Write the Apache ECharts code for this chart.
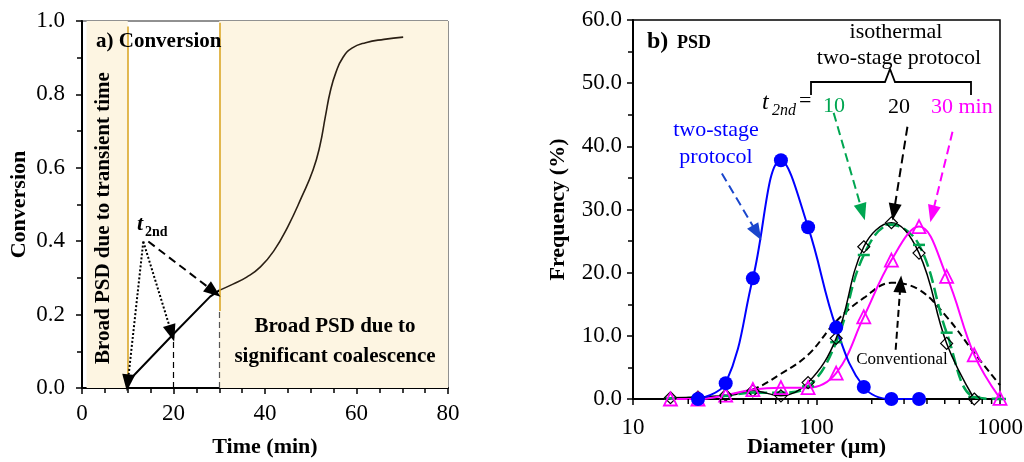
<!DOCTYPE html>
<html lang="en">
<head>
<meta charset="utf-8" />
<title>Conversion and PSD</title>
<script src="https://cdn.jsdelivr.net/npm/echarts@6/dist/echarts.min.js"></script>
<style>
  html, body { margin: 0; padding: 0; background: #fff; }
  #main { width: 1024px; height: 462px; }
</style>
</head>
<body>
<div id="main"></div>
<script>
// panel a) conversion vs time
var rampTime = [10, 20, 28, 30];
var rampConv = [0.017, 0.147, 0.249, 0.266];
var curveTime = [30, 33, 36, 39, 42, 45, 48, 50.5, 52, 53.2, 54.3, 55.5, 57, 59, 62, 66, 70.2];
var curveConv = [0.266, 0.283, 0.302, 0.33, 0.375, 0.44, 0.52, 0.594, 0.66, 0.74, 0.81, 0.86, 0.9, 0.926, 0.941, 0.95, 0.956];

// panel b) PSD
var diam = [16, 22.6, 32, 45, 64, 90, 128, 181, 256, 362, 512, 724, 1000];
var twoStage = [null, 0.0, 2.5, 19.1, 37.8, 27.2, 11.3, 1.9, 0.0, 0.0, null, null, null];
var iso10 = [0.1, 0.2, 0.5, 1.0, 1.0, 2.0, 9.0, 22.8, 27.6, 24.4, 10.5, 0.3, 0.0];
var iso20 = [0.2, 0.3, 0.6, 1.3, 0.5, 2.6, 9.6, 24.1, 27.9, 23.1, 8.8, 0.0, null];
var iso30 = [0.0, 0.0, 0.6, 1.5, 1.8, 1.8, 4.1, 13.0, 22.0, 27.3, 19.4, 7.0, 0.1];
var conventional = [null, 0.0, 0.5, 1.5, 4.0, 7.0, 12.3, 16.0, 18.4, 17.3, 13.0, 7.3, 2.2];
var logMinor = [20, 30, 40, 50, 60, 70, 80, 90, 200, 300, 400, 500, 600, 700, 800, 900];

var FONT = '"Liberation Serif", "Times New Roman", serif';

function pairs(xs, ys) {
    var out = [];
    for (var i = 0; i < xs.length; i++) {
        if (ys[i] !== null) out.push([xs[i], ys[i]]);
    }
    return out;
}

function arrow(x1, y1, x2, y2, color, type) {
    return [
        { coord: [x1, y1], symbol: 'none', lineStyle: { color: color, type: type, width: 2 } },
        { coord: [x2, y2], symbol: 'triangle', symbolSize: [13, 17], itemStyle: { color: color } }
    ];
}

function vline(x, y1, y2, color, type, width) {
    return [
        { coord: [x, y1], symbol: 'none', lineStyle: { color: color, type: type, width: width } },
        { coord: [x, y2], symbol: 'none' }
    ];
}

function txt(x, y, text, font, fill, align, extra) {
    var st = { text: text, font: font + ' ' + FONT, fill: fill || '#000', textAlign: align || 'left', textVerticalAlign: 'middle' };
    var el = { type: 'text', x: x, y: y, z: 100, style: st };
    if (extra) echarts.util.merge(el, extra, true);
    return el;
}

var myChart = echarts.init(document.getElementById('main'));

var axisCommon = {
    nameMoveOverlap: false,
    axisLine: { lineStyle: { color: '#000', width: 2 } },
    axisTick: { inside: false, length: 6, lineStyle: { color: '#000', width: 1.5 } },
    minorTick: { show: true, length: 5, lineStyle: { color: '#000', width: 1.5 } },
    splitLine: { show: false },
    axisLabel: { color: '#000', fontFamily: FONT, fontSize: 23 },
    nameTextStyle: { color: '#000', fontFamily: FONT, fontSize: 22, fontWeight: 'bold' }
};

var option = {
    animation: false,
    grid: [
        { left: 82, right: 576, top: 21, bottom: 74, show: true, borderColor: '#222', borderWidth: 1,
          containLabel: false, outerBoundsMode: 'none' },
        { left: 633, right: 24, top: 20, bottom: 63, show: true, borderColor: '#000', borderWidth: 1.5,
          containLabel: false, outerBoundsMode: 'none' }
    ],
    xAxis: [
        echarts.util.merge({
            gridIndex: 0, type: 'value', min: 0, max: 80, interval: 20,
            name: 'Time (min)', nameLocation: 'middle', nameGap: 48,
            minorTick: { splitNumber: 4 },
            axisLabel: { margin: 14 }
        }, axisCommon, false),
        echarts.util.merge({
            gridIndex: 1, type: 'log', logBase: 10, min: 10, max: 1000,
            name: 'Diameter (µm)', nameLocation: 'middle', nameGap: 37,
            minorTick: { show: false },
            axisLabel: { margin: 17, formatter: function (v) { return String(Math.round(v)); } }
        }, axisCommon, false)
    ],
    yAxis: [
        echarts.util.merge({
            gridIndex: 0, type: 'value', min: 0, max: 1, interval: 0.2,
            name: 'Conversion', nameLocation: 'middle', nameGap: 52,
            minorTick: { splitNumber: 2 },
            axisLabel: { margin: 17, formatter: function (v) { return v.toFixed(1); } }
        }, axisCommon, false),
        echarts.util.merge({
            gridIndex: 1, type: 'value', min: 0, max: 60, interval: 10,
            name: 'Frequency (%)', nameLocation: 'middle', nameGap: 64,
            minorTick: { splitNumber: 2 },
            axisLabel: { margin: 11, formatter: function (v) { return v.toFixed(1); } }
        }, axisCommon, false)
    ],
    series: [
        // shaded regions + guide lines (panel a)
        {
            type: 'line', xAxisIndex: 0, yAxisIndex: 0, data: [], silent: true,
            markArea: {
                silent: true,
                itemStyle: { color: '#fdf5e2' },
                data: [
                    [{ coord: [1, 0] }, { coord: [10, 1] }],
                    [{ coord: [30, 0] }, { coord: [80, 1] }]
                ]
            },
            markLine: {
                silent: true, label: { show: false }, symbol: ['none', 'none'],
                data: [
                    vline(10, 0.01, 0.985, '#d8a21c', 'solid', 1.5),
                    vline(30, 0.21, 0.995, '#d8a21c', 'solid', 1.5),
                    vline(20, 0, 0.147, '#000', [6, 4], 1.2),
                    vline(30, 0, 0.21, '#555', [6, 4], 1.2)
                ]
            }
        },
        {
            type: 'line', xAxisIndex: 0, yAxisIndex: 0, showSymbol: false, symbol: 'none',
            data: pairs(rampTime, rampConv),
            lineStyle: { color: '#000', width: 2 }, z: 3,
            markLine: {
                silent: true, label: { show: false },
                data: [
                    arrow(13.4, 0.399, 10.0, 0.014, '#000', 'dotted'),
                    arrow(13.4, 0.399, 19.6, 0.149, '#000', 'dotted'),
                    arrow(14.5, 0.399, 28.8, 0.263, '#000', [8, 5])
                ]
            }
        },
        {
            type: 'line', xAxisIndex: 0, yAxisIndex: 0, showSymbol: false, symbol: 'none', smooth: 0.5,
            data: pairs(curveTime, curveConv),
            lineStyle: { color: '#2a1f14', width: 1.6 }, z: 3
        },
        // panel b
        {
            type: 'custom', xAxisIndex: 1, yAxisIndex: 1, silent: true, clip: false, z: 10,
            data: logMinor.map(function (v) { return [v, 0]; }),
            renderItem: function (params, api) {
                var p = api.coord([api.value(0), 0]);
                return {
                    type: 'line',
                    shape: { x1: p[0], y1: p[1], x2: p[0], y2: p[1] + 5 },
                    style: { stroke: '#000', lineWidth: 1.5 }
                };
            }
        },
        {
            name: 'Conventional', type: 'line', xAxisIndex: 1, yAxisIndex: 1,
            data: pairs(diam, conventional), smooth: 0.4, showSymbol: false, symbol: 'none',
            lineStyle: { color: '#000', width: 2, type: [7, 4] },
            markLine: {
                silent: true, label: { show: false },
                data: [
                    arrow(270, 7.8, 287, 18.2, '#000', [7, 4]),
                    arrow(124, 45.3, 178, 29.6, '#00a651', [9, 5]),
                    arrow(313, 43.1, 264, 29.6, '#000', [9, 5]),
                    arrow(551, 42.3, 428, 29.3, '#ff00ff', [9, 5]),
                    arrow(30.5, 35.7, 47.4, 26.3, '#1a46cc', [9, 5])
                ]
            }
        },
        {
            name: 't=10', type: 'line', xAxisIndex: 1, yAxisIndex: 1,
            data: pairs(diam, iso10), smooth: 0.4,
            symbol: 'rect', symbolSize: [12, 2.5],
            itemStyle: { color: '#00a651' },
            lineStyle: { color: '#00a651', width: 2.5, type: [12, 5] }
        },
        {
            name: 't=20', type: 'line', xAxisIndex: 1, yAxisIndex: 1,
            data: pairs(diam, iso20), smooth: 0.4,
            symbol: 'diamond', symbolSize: 12,
            itemStyle: { color: 'rgba(255,255,255,0)', borderColor: '#000', borderWidth: 1.2 },
            lineStyle: { color: '#000', width: 1.5 }
        },
        {
            name: 't=30', type: 'line', xAxisIndex: 1, yAxisIndex: 1,
            data: pairs(diam, iso30), smooth: 0.4,
            symbol: 'triangle', symbolSize: 13,
            itemStyle: { color: 'rgba(255,255,255,0)', borderColor: '#ff00ff', borderWidth: 1.8 },
            lineStyle: { color: '#ff00ff', width: 2 }
        },
        {
            name: 'two-stage', type: 'line', xAxisIndex: 1, yAxisIndex: 1,
            data: pairs(diam, twoStage), smooth: 0.4,
            symbol: 'circle', symbolSize: 14,
            itemStyle: { color: '#0000ff' },
            lineStyle: { color: '#0000ff', width: 2 }
        }
    ],
    graphic: [
        // panel a texts
        txt(96, 42, 'a) Conversion', 'bold 21px'),
        txt(104, 218, 'Broad PSD due to transient time', 'bold 21px', '#000', 'center', { rotation: Math.PI / 2 }),
        txt(335, 342, 'Broad PSD due to\nsignificant coalescence', 'bold 21px', '#000', 'center', { style: { lineHeight: 30 } }),
        txt(137, 224, 't', 'italic bold 22px'),
        txt(145, 232, '2nd', 'bold 14px'),
        // panel b texts
        txt(647, 42, 'b)', 'bold 24px'),
        txt(677, 43, 'PSD', 'bold 18px'),
        txt(896, 32, 'isothermal', '22px', '#000', 'center'),
        txt(899, 58, 'two-stage protocol', '22px', '#000', 'center'),
        { type: 'polyline', z: 100, shape: { points: [[811, 95], [811, 82], [885, 82], [890, 69], [895, 82], [971, 82], [971, 95]] },
          style: { stroke: '#000', lineWidth: 1.8, fill: null } },
        txt(762, 103, 't', 'italic 24px'),
        txt(772, 111, '2nd', 'italic 16px'),
        txt(799, 101, '=', '22px'),
        txt(823, 106, '10', '22px', '#00a651'),
        txt(888, 107, '20', '22px'),
        txt(931, 107, '30 min', '22px', '#ff00ff'),
        txt(716, 130, 'two-stage', '22px', '#0000ff', 'center'),
        txt(716, 157, 'protocol', '22px', '#0000ff', 'center'),
        txt(902, 360, 'Conventional', '17px', '#000', 'center')
    ]
};

myChart.setOption(option, true);
</script>
</body>
</html>
